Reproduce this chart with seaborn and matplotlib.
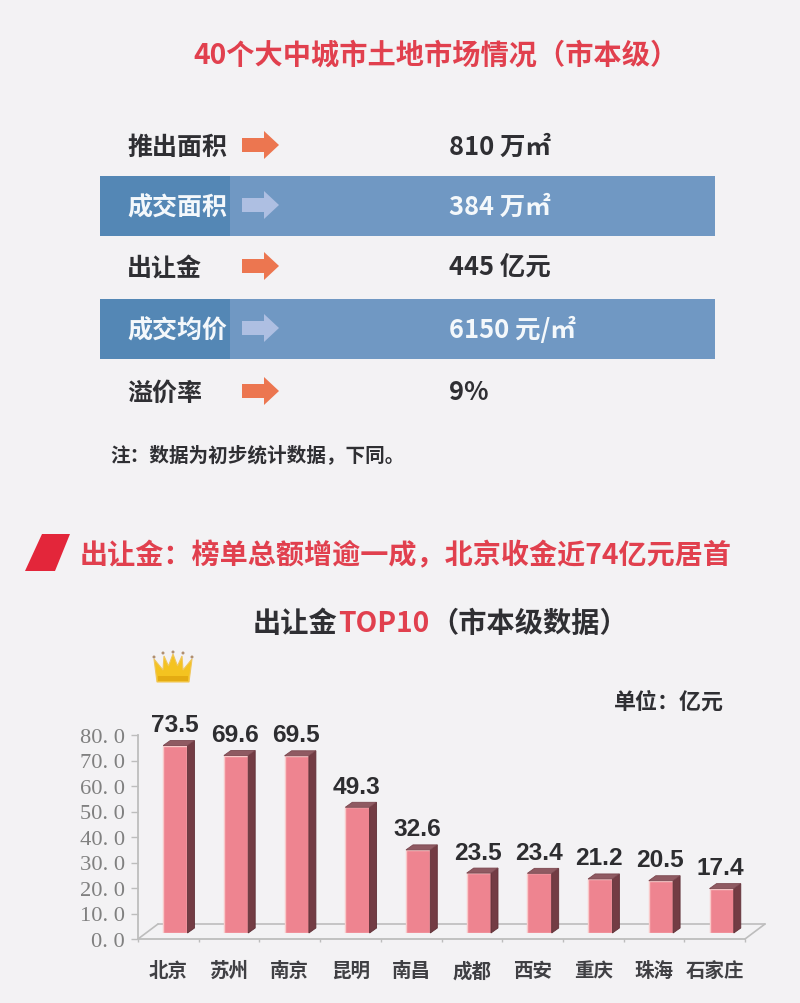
import matplotlib
matplotlib.use("Agg")
import matplotlib.pyplot as plt
from matplotlib.patches import Polygon, Rectangle, Circle
import pandas as pd
import seaborn as sns

# ---- data ----
cities = ["北京", "苏州", "南京", "昆明", "南昌", "成都", "西安", "重庆", "珠海", "石家庄"]
values = [73.5, 69.6, 69.5, 49.3, 32.6, 23.5, 23.4, 21.2, 20.5, 17.4]
y_ticks = [0, 10, 20, 30, 40, 50, 60, 70, 80]
row_names = ["推出面积", "成交面积", "出让金", "成交均价", "溢价率"]
row_values = ["810 万㎡", "384 万㎡", "445 亿元", "6150 元/㎡", "9%"]
title = "40个大中城市土地市场情况（市本级）"
note = "注：数据为初步统计数据，下同。"
subtitle = "出让金：榜单总额增逾一成，北京收金近74亿元居首"
chart_title_parts = ["出让金", "TOP10", "（市本级数据）"]
unit = "单位：亿元"

# ---- style ----
BG = "#f3f2f4"
RED = "#e1404e"
INK = "#2f2f33"
sns.set_theme(style="white")
plt.rcParams["font.family"] = ["Noto Sans CJK SC", "DejaVu Sans"]
plt.rcParams["axes.unicode_minus"] = False

W, H = 800, 1004
PT = 0.72  # px -> pt at dpi 100
fig = plt.figure(figsize=(W / 100, H / 100), dpi=100, facecolor=BG)

# ---- page layer, in pixel coordinates ----
page = fig.add_axes([0, 0, 1, 1], zorder=0)
page.set_xlim(0, W)
page.set_ylim(H, 0)
page.axis("off")


def txt(x, y, s, px, color=INK, ha="left", weight="bold", **kw):
    return page.text(x, y, s, fontsize=px * PT, color=color, ha=ha, va="center",
                     fontweight=weight, **kw)


def arrow(cx, cy, color):
    x0, x1, x2 = cx - 19, cx + 3, cx + 18
    page.add_patch(Polygon([(x0, cy - 7), (x1, cy - 7), (x1, cy - 14), (x2, cy),
                            (x1, cy + 14), (x1, cy + 7), (x0, cy + 7)],
                           closed=True, fc=color, ec="none"))


txt(193, 56, title, 28.2, RED)

row_y = [146, 206, 267, 329, 392]
for i, (name, val, y) in enumerate(zip(row_names, row_values, row_y)):
    band = i % 2 == 1
    if band:
        page.add_patch(Rectangle((100, y - 29), 615, 60, fc="#7098c3", ec="none"))
        page.add_patch(Rectangle((100, y - 29), 130, 60, fc="#5487b5", ec="none"))
    color = "#f4f8fb" if band else INK
    txt(127, y + 2, name, 25, color)
    arrow(261, y, "#aebfe2" if band else "#ec7650")
    txt(449, y + 1, val, 25.5, color)

txt(110, 455, note, 19.6, INK)

page.add_patch(Polygon([(42, 535), (70, 535), (55, 572), (25, 572)], closed=True,
                       fc="#e3263a", ec="none"))
txt(80, 556, subtitle, 28.1, RED)

part_x = [253, 338, 430]
part_c = [INK, RED, INK]
for s, x, c in zip(chart_title_parts, part_x, part_c):
    txt(x, 624, s, 28.2, c)

txt(614, 702, unit, 22, INK)

# crown
page.add_patch(Polygon([(157, 683), (154, 660), (163, 671), (164, 657), (168.5, 667), (173, 655),
                        (177.5, 667), (182, 657), (183, 671), (192, 660), (189, 683)],
                       closed=True, fc="#f4c320", ec="#f0c65a", lw=0.8))
page.add_patch(Rectangle((158, 677), 30, 5, fc="#e4ab12", ec="none"))
for cx, cy in [(154, 658), (163, 654), (173, 653), (183, 654), (192, 658)]:
    page.add_patch(Circle((cx, cy), 1.5, fc="#b08f70", ec="none"))


# ---- chart layer ----
def px_rect(x0, x1, y_bottom, y_top):
    return [x0 / W, 1 - y_bottom / H, (x1 - x0) / W, (y_bottom - y_top) / H]


AX_L, AX_R, AX_B, AX_T = 138, 745, 940, 736
ax = fig.add_axes(px_rect(AX_L, AX_R, AX_B, AX_T), zorder=1)
ax.patch.set_alpha(0)
ax.set_xlim(-0.5, 9.5)
ax.set_ylim(0, 80)

GREY = "#bdbdbd"
for side in ("top", "right"):
    ax.spines[side].set_visible(False)
for side in ("left", "bottom"):
    ax.spines[side].set_color(GREY)
    ax.spines[side].set_linewidth(1.3)

ax.set_xticks(range(len(cities)))
ax.set_xticklabels(cities, fontsize=19.5 * PT, fontweight="bold", color="#404044")
ax.set_xticks([i - 0.5 for i in range(len(cities) + 1)], minor=True)
ax.tick_params(axis="x", which="major", length=0, pad=22 * PT)
ax.tick_params(axis="x", which="minor", length=3 * PT, width=1, color=GREY, bottom=True)
ax.set_yticks(y_ticks)
ax.set_yticklabels([f"{v:.1f}".replace(".", ". ") for v in y_ticks],
                   fontsize=22.5 * PT, color="#808080", family="Liberation Serif")
ax.tick_params(axis="y", length=7 * PT, width=1, color=GREY, left=True, pad=6 * PT)

# floor of the 3D box
px_x = (AX_R - AX_L) / 10          # px per category
px_y = (AX_B - AX_T) / 80          # px per unit
fx, fy = 20 / px_x, 15 / px_y
for xs, ys in [([-0.5, -0.5 + fx], [0, fy]),
               ([-0.5 + fx, 9.5 + fx], [fy, fy]),
               ([9.5, 9.5 + fx], [0, fy])]:
    ax.plot(xs, ys, color=GREY, lw=1.2, clip_on=False, zorder=1)

# bars sit on the floor, so their axes is shifted inward
SHIFT_X, SHIFT_Y = 7, 6
bx = fig.add_axes(px_rect(AX_L + SHIFT_X, AX_R + SHIFT_X, AX_B - SHIFT_Y, AX_T - SHIFT_Y), zorder=2)
df = pd.DataFrame({"city": cities, "value": values})
sns.barplot(data=df, x="city", y="value", ax=bx, color="#ee8490", saturation=1, width=0.4,
            edgecolor="#f9c9c9", linewidth=1.0)
bx.set_xlim(-0.5, 9.5)
bx.set_ylim(0, 80)
bx.axis("off")
bx.patch.set_alpha(0)

dx, dy = 7 / px_x, 5 / px_y
for bar, v in zip(bx.patches, values):
    x0, w, h = bar.get_x(), bar.get_width(), bar.get_height()
    x1 = x0 + w
    bx.add_patch(Polygon([(x1, 0), (x1 + dx, dy), (x1 + dx, h + dy), (x1, h)], closed=True,
                         fc="#733c44", ec="#5f2f36", lw=0.6, clip_on=False))
    bx.add_patch(Polygon([(x0, h), (x0 + dx, h + dy), (x1 + dx, h + dy), (x1, h)], closed=True,
                         fc="#8f5a62", ec="#7a464e", lw=0.6, clip_on=False))
    bx.annotate(f"{v:.1f}", (x0 + w / 2, h), xytext=(-1 * PT, 14.5 * PT), textcoords="offset points",
                ha="center", va="baseline", fontsize=24.5 * PT, fontweight="bold",
                family="Liberation Sans", color="#2d2d30", annotation_clip=False)

fig.savefig("out.png", dpi=100, facecolor=BG)
